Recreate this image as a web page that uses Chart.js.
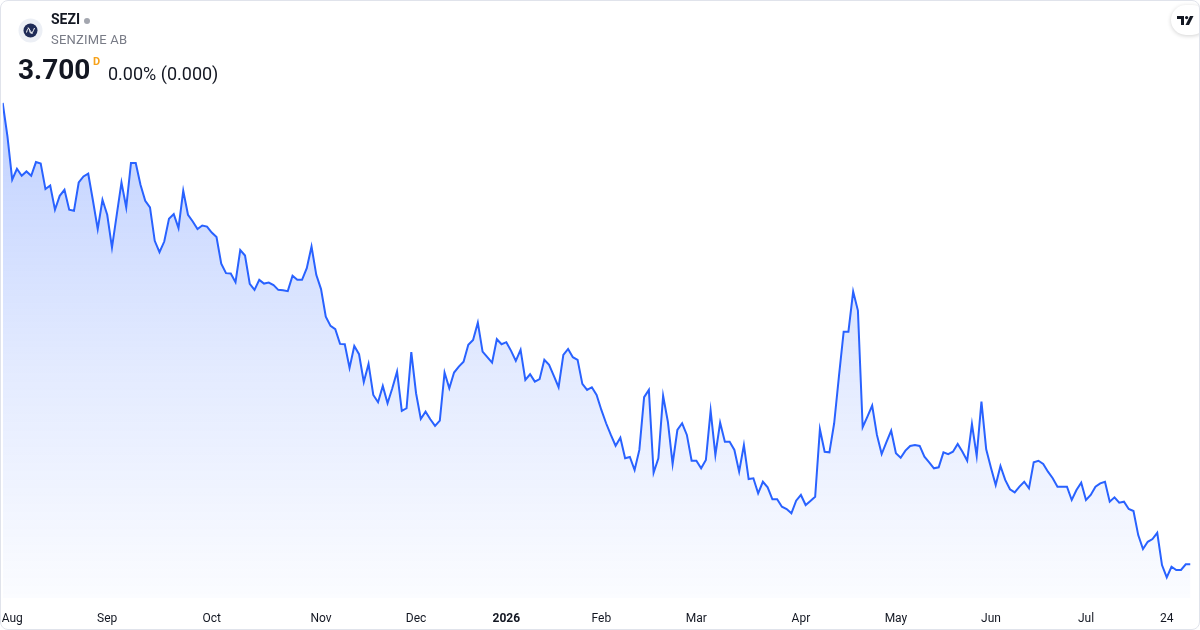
<!DOCTYPE html>
<html>
<head>
<meta charset="utf-8">
<script src="https://cdn.jsdelivr.net/npm/chart.js@4.4.1/dist/chart.umd.min.js"></script>
<style>
  html, body { margin: 0; padding: 0; background: #fff; }
  #wrap { position: relative; width: 1200px; height: 630px; overflow: hidden; font-family: Roboto, "Noto Sans", sans-serif; }
  #plot { position: absolute; left: 0; top: 0; width: 1200px; height: 630px; }
  #frame { position: absolute; left: 0; top: 0; width: 1200px; height: 630px; box-sizing: border-box; border: 1px solid #e0e3eb; border-radius: 8px; pointer-events: none; }
  .abs { position: absolute; white-space: nowrap; }
  #sym { left: 51px; top: 11px; font-size: 14px; font-weight: 700; color: #131722; }
  #dot { left: 84px; top: 18px; width: 6px; height: 6px; border-radius: 50%; background: #a3a6af; }
  #name { left: 51px; top: 32px; font-size: 13px; color: #787b86; letter-spacing: 0.2px; }
  #price { left: 18px; top: 53px; font-size: 28px; font-weight: 700; color: #131722; }
  #dflag { left: 93px; top: 55px; font-size: 11px; font-weight: 700; color: #f7a21b; }
  #chg { left: 108px; top: 63px; font-size: 18px; color: #131722; }
  #tv { left: 1171px; top: 5px; width: 36px; height: 30px; border-radius: 15px; background: #fff; box-shadow: 0 1px 4px rgba(0,0,0,0.18); }
</style>
</head>
<body>
<div id="wrap">
  <div id="plot"><canvas id="grafico"></canvas></div>
  <svg class="abs" style="left:18px;top:18px" width="25" height="25" viewBox="0 0 25 25">
    <circle cx="12.5" cy="12.5" r="12" fill="#eceff5"/>
    <circle cx="12.5" cy="12.5" r="7" fill="#1f2b57"/>
    <path d="M8.5 14.5 C10 9, 11 9, 12 14 C13 17, 14.5 15, 16.5 10" stroke="#fff" stroke-width="1" fill="none"/>
    <path d="M10 9.5 L14.5 16" stroke="#fff" stroke-width="0.8" fill="none"/>
  </svg>
  <div class="abs" id="sym">SEZI</div>
  <div class="abs" id="dot"></div>
  <div class="abs" id="name">SENZIME AB</div>
  <div class="abs" id="price">3.700</div>
  <div class="abs" id="dflag">D</div>
  <div class="abs" id="chg">0.00% (0.000)</div>
  <div class="abs" id="tv">
    <svg style="position:absolute;left:6px;top:11px" width="17" height="9" viewBox="0 0 17 9">
      <path d="M0 0 H7 V9 H4 V3 H0 Z" fill="#131722"/>
      <circle cx="9.6" cy="1.6" r="1.6" fill="#131722"/>
      <path d="M13 0 H16.5 L12 9 H8.5 Z" fill="#131722"/>
    </svg>
  </div>
  <div id="frame"></div>
</div>
<script>
// closing prices, one per trading day, from late July 2025
const precios = [
  7.542, 7.263, 6.903, 6.994, 6.936, 6.972, 6.936, 7.050, 7.038, 6.825,
  6.855, 6.653, 6.769, 6.819, 6.653, 6.644, 6.880, 6.930, 6.953, 6.728,
  6.492, 6.736, 6.611, 6.338, 6.611, 6.880, 6.672, 7.042, 7.042, 6.861,
  6.728, 6.672, 6.394, 6.300, 6.388, 6.578, 6.617, 6.500, 6.811, 6.611,
  6.555, 6.492, 6.522, 6.513, 6.463, 6.425, 6.203, 6.125, 6.122, 6.050,
  6.317, 6.272, 6.036, 5.986, 6.069, 6.038, 6.047, 6.025, 5.986, 5.983,
  5.975, 6.103, 6.069, 6.069, 6.167, 6.347, 6.111, 5.992, 5.763, 5.686,
  5.658, 5.536, 5.533, 5.336, 5.519, 5.450, 5.219, 5.369, 5.111, 5.050,
  5.186, 5.042, 5.167, 5.305, 4.978, 5.000, 5.467, 5.125, 4.911, 4.972,
  4.908, 4.853, 4.897, 5.297, 5.167, 5.297, 5.347, 5.388, 5.528, 5.569,
  5.713, 5.472, 5.425, 5.380, 5.575, 5.533, 5.550, 5.478, 5.394, 5.486,
  5.236, 5.283, 5.222, 5.242, 5.403, 5.361, 5.269, 5.175, 5.444, 5.494,
  5.425, 5.403, 5.203, 5.153, 5.175, 5.111, 4.986, 4.875, 4.778, 4.688,
  4.755, 4.583, 4.594, 4.486, 4.653, 5.092, 5.153, 4.463, 4.583, 5.103,
  4.888, 4.536, 4.819, 4.875, 4.778, 4.563, 4.563, 4.500, 4.569, 4.980,
  4.611, 4.880, 4.722, 4.722, 4.653, 4.472, 4.694, 4.411, 4.417, 4.292,
  4.388, 4.342, 4.242, 4.242, 4.180, 4.161, 4.125, 4.230, 4.278, 4.194,
  4.228, 4.263, 4.825, 4.638, 4.633, 4.875, 5.263, 5.638, 5.638, 5.972,
  5.813, 4.842, 4.930, 5.022, 4.778, 4.619, 4.717, 4.813, 4.625, 4.588,
  4.647, 4.686, 4.694, 4.686, 4.597, 4.550, 4.500, 4.508, 4.633, 4.617,
  4.638, 4.703, 4.638, 4.563, 4.869, 4.603, 5.055, 4.658, 4.505, 4.361,
  4.519, 4.403, 4.325, 4.300, 4.347, 4.388, 4.333, 4.550, 4.563, 4.536,
  4.472, 4.417, 4.347, 4.347, 4.347, 4.236, 4.319, 4.380, 4.236, 4.278,
  4.347, 4.375, 4.388, 4.222, 4.258, 4.213, 4.222, 4.161, 4.144, 3.944,
  3.828, 3.888, 3.911, 3.963, 3.694, 3.592, 3.680, 3.653, 3.653, 3.700,
  3.700
];

// x-axis tick positions (trading day index) and their labels
const marcasIdx = [2, 22, 44, 67, 87, 106, 126, 146, 168, 188, 208, 228, 245];
const marcasTxt = ['Aug', 'Sep', 'Oct', 'Nov', 'Dec', '2026', 'Feb', 'Mar', 'Apr', 'May', 'Jun', 'Jul', '24'];

const puntos = precios.map((p, i) => ({ x: i, y: p }));

const ctx = document.getElementById('grafico').getContext('2d');

const data = {
  datasets: [{
    label: 'SEZI',
    data: puntos,
    borderColor: '#2962ff',
    borderWidth: 2,
    pointRadius: 0,
    tension: 0,
    fill: 'start',
    backgroundColor: (c) => {
      const area = c.chart.chartArea;
      if (!area) return 'rgba(41,98,255,0.15)';
      const g = c.chart.ctx.createLinearGradient(0, area.top, 0, area.bottom);
      g.addColorStop(0, 'rgba(41,98,255,0.30)');
      g.addColorStop(0.55, 'rgba(41,98,255,0.13)');
      g.addColorStop(1, 'rgba(41,98,255,0.02)');
      return g;
    }
  }]
};

const options = {
  responsive: true,
  maintainAspectRatio: false,
  animation: false,
  layout: { padding: { left: 2.7, right: 9.5, top: 90, bottom: 0 } },
  plugins: {
    legend: { display: false },
    tooltip: { enabled: false }
  },
  scales: {
    x: {
      type: 'linear',
      min: 0,
      max: precios.length - 1,
      grid: { display: false },
      border: { display: false },
      afterBuildTicks: (scale) => {
        scale.ticks = marcasIdx.map(v => ({ value: v }));
      },
      afterFit: (scale) => {
        scale.height = 32;
        scale.paddingLeft = 0;
        scale.paddingRight = 0;
      },
      ticks: {
        autoSkip: false,
        maxRotation: 0,
        padding: 6,
        color: '#131722',
        font: (c) => ({
          family: 'Roboto, "Noto Sans", sans-serif',
          size: 12,
          weight: (c.tick && c.tick.label === '2026') ? 'bold' : 'normal'
        }),
        callback: (v) => {
          const k = marcasIdx.indexOf(v);
          return k >= 0 ? marcasTxt[k] : '';
        }
      }
    },
    y: {
      display: false,
      min: 3.42,
      max: 7.65
    }
  }
};

const miGrafico = new Chart(ctx, {
  type: 'line',
  data: data,
  options: options
});
</script>
</body>
</html>
